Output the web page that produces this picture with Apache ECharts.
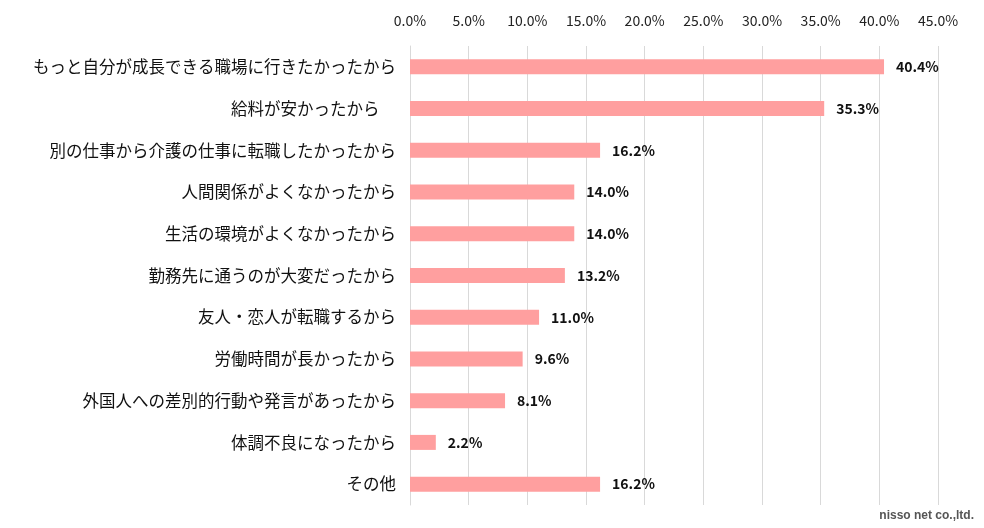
<!DOCTYPE html>
<html>
<head>
<meta charset="utf-8">
<script src="https://cdn.jsdelivr.net/npm/echarts@6/dist/echarts.min.js"></script>
<style>html,body{margin:0;padding:0;background:#fff}#main{width:984px;height:528px}</style>
</head>
<body>
<div id="main"></div>
<script>
// 退職理由（上から順）
var categories = ['もっと自分が成長できる職場に行きたかったから', '給料が安かったから　', '別の仕事から介護の仕事に転職したかったから', '人間関係がよくなかったから', '生活の環境がよくなかったから', '勤務先に通うのが大変だったから', '友人・恋人が転職するから', '労働時間が長かったから', '外国人への差別的行動や発言があったから', '体調不良になったから', 'その他'];
var values = [40.4, 35.3, 16.2, 14.0, 14.0, 13.2, 11.0, 9.6, 8.1, 2.2, 16.2];

var chart = echarts.init(document.getElementById('main'));
chart.setOption({
	animation: false,
	grid: { left: 410, right: 46, top: 46, bottom: 23 },
	xAxis: {
		type: 'value',
		position: 'top',
		min: 0, max: 45, interval: 5,
		axisLine: { show: false },
		axisTick: { show: false },
		axisLabel: { formatter: function(v) { return v.toFixed(1) + '%'; }, color: '#222', fontSize: 14, margin: 18, fontFamily: 'Noto Sans CJK JP' },
		splitLine: { lineStyle: { color: '#d9d9d9' } }
	},
	yAxis: {
		type: 'category',
		inverse: true,
		data: categories,
		axisLine: { lineStyle: { color: '#d9d9d9' } },
		axisTick: { show: false },
		axisLabel: { color: '#111', fontSize: 16.5, margin: 14, fontFamily: 'Noto Sans CJK JP' }
	},
	series: [{
		type: 'bar',
		data: values,
		barWidth: 15,
		itemStyle: { color: '#ff9f9f' },
		label: {
			show: true, position: 'right', distance: 12,
			formatter: function(p) { return p.value.toFixed(1) + '%'; },
			color: '#111', fontWeight: 'bold', fontSize: 14, fontFamily: 'Noto Sans CJK JP'
		}
	}],
	graphic: [{
		type: 'text', right: 10, bottom: 6,
		style: { text: 'nisso net co.,ltd.', fill: '#555', font: 'bold 12px sans-serif' }
	}]
});
</script>
</body>
</html>
